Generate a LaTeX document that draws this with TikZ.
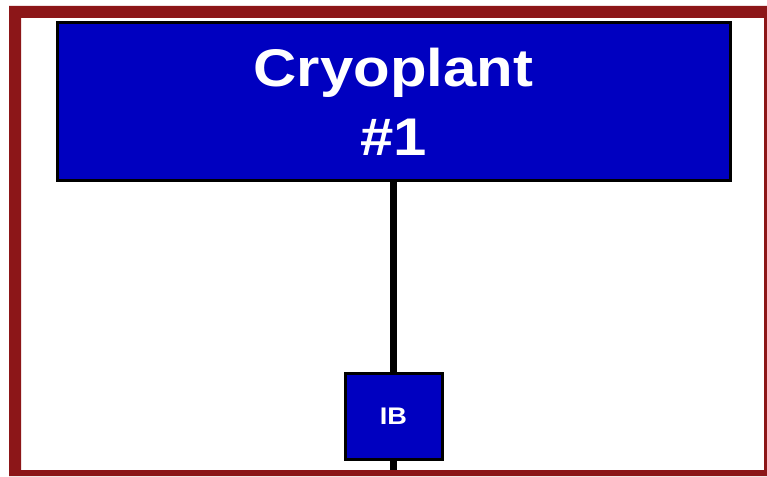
\documentclass[tikz,border=0pt]{standalone}
\usepackage{fontspec}
\setmainfont{Liberation Sans}
\usetikzlibrary{positioning}
\definecolor{plantblue}{RGB}{0,0,192}
\definecolor{framered}{RGB}{140,22,24}
\tikzset{
	plantbox/.style={draw=black, line width=3pt, fill=plantblue, text=white, inner sep=0pt},
	feed/.style={line width=7pt, black}
}
\newcommand{\wide}[1]{\scalebox{1.13}[1]{#1}}
\begin{document}
\begin{tikzpicture}[x=1pt, y=-1pt]
		\useasboundingbox (0,0) rectangle (767,476);
		\fill[white] (0,0) rectangle (767,476);
		\node[plantbox, minimum width=673pt, minimum height=157pt, align=center, font=\fontsize{53}{69}\selectfont\bfseries] (cryo) at (393.5,101.5) {\wide{Cryoplant}\\\wide{\#1}};
		\node[plantbox, minimum width=97pt, minimum height=86pt, font=\fontsize{24}{28}\selectfont\bfseries] (ib) at (393.5,416) {\wide{IB}};
		\coordinate (tail) at (393.5,476);
		\draw[feed] (cryo.south) -- (ib.north);
		\draw[feed] (ib.south) -- (tail);
		\fill[framered, even odd rule] (9,6) rectangle (767,476) (21,18) rectangle (764,470);
		\end{tikzpicture}
\end{document}
